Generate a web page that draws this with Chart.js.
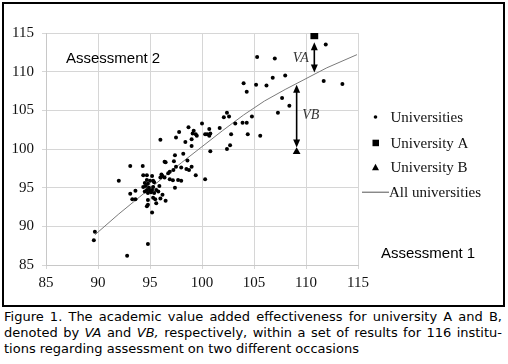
<!DOCTYPE html>
<html>
<head>
<meta charset="utf-8">
<script src="https://cdn.jsdelivr.net/npm/chart.js@4.4.1/dist/chart.umd.min.js"></script>
<style>
  body { margin: 0; background: #fff; width: 508px; height: 364px; position: relative; overflow: hidden; }
  #frame { position: absolute; left: 2px; top: 2px; width: 503px; height: 305px; border: 2px solid #000; box-sizing: border-box; }
  #chart { position: absolute; left: 4px; top: 4px; }
  #caption { position: absolute; left: 4px; top: 309px; width: 498px; font-family: "DejaVu Sans", sans-serif; font-size: 13px; line-height: 16px; color: #000; }
  #caption div { white-space: nowrap; }
  #caption .j { text-align: justify; text-align-last: justify; }
</style>
</head>
<body>
<div id="frame"></div>
<canvas id="chart" width="498" height="300"></canvas>
<div id="caption">
  <div class="j">Figure 1. The academic value added effectiveness for university A and B,</div>
  <div class="j">denoted by <i>VA</i> and <i>VB,</i> respectively, within a set of results for 116 institu-</div>
  <div>tions regarding assessment on two different occasions</div>
</div>
<script>
// Assessment 1 (x) vs Assessment 2 (y)
const universities = [
  [89.6, 88.2], [89.7, 89.3], [92.8, 86.2], [94.8, 87.7], [92.0, 95.9], [93.1, 97.8],
  [94.3, 97.8], [93.1, 94.2], [93.6, 94.6], [93.3, 93.5], [93.6, 93.5], [95.2, 91.8],
  [94.7, 92.6], [94.8, 92.8], [95.6, 93.0], [94.8, 93.4], [95.3, 93.7], [95.5, 93.5],
  [96.0, 93.6], [96.5, 93.3], [96.2, 94.1], [95.8, 94.5], [94.35, 96.6], [94.7, 96.6],
  [95.2, 96.5], [94.7, 96.0], [95.0, 95.9], [95.3, 95.9], [94.5, 95.6], [94.8, 95.5],
  [95.4, 95.7], [94.35, 95.1], [94.6, 95.2], [94.9, 95.0], [95.3, 95.1], [94.7, 94.7],
  [95.0, 94.6], [95.2, 94.7], [95.6, 94.7], [94.8, 94.3], [95.1, 94.4], [95.4, 94.3],
  [94.5, 94.5], [95.9, 95.2], [96.0, 96.3], [96.4, 96.3], [96.1, 96.7], [96.2, 96.5],
  [96.75, 96.85], [96.9, 97.05], [96.9, 96.1], [97.4, 95.0], [97.7, 96.0], [98.0, 95.9],
  [97.2, 95.95], [99.4, 96.6], [100.3, 96.1], [97.25, 97.3], [97.5, 97.7], [98.0, 97.6],
  [98.5, 97.4], [98.75, 97.3], [99.0, 97.7], [96.4, 98.35], [96.5, 98.3], [97.3, 98.4],
  [98.6, 98.5], [97.4, 99.2], [98.2, 99.4], [100.8, 99.7], [102.4, 100.0], [102.7, 100.5],
  [99.0, 100.4], [98.4, 100.9], [96.0, 101.2], [97.5, 101.5], [97.8, 102.2], [98.7, 102.8],
  [99.0, 101.25], [99.1, 102.0], [99.2, 102.35], [99.4, 101.9], [99.5, 101.7], [100.0, 103.3],
  [100.3, 101.9], [100.5, 101.9], [100.7, 101.7], [100.8, 102.0], [100.7, 102.6], [101.7, 102.7],
  [102.1, 104.1], [102.4, 104.7], [102.6, 104.2], [102.8, 101.9], [103.2, 103.3], [104.3, 103.4],
  [103.9, 103.4], [104.8, 104.2], [104.4, 101.9], [105.6, 101.7], [104.0, 108.5], [104.3, 107.4],
  [105.2, 108.3], [106.2, 108.2], [106.8, 109.2], [108.0, 109.5], [105.3, 111.9], [107.0, 111.7],
  [111.9, 113.5], [111.7, 108.8], [113.5, 108.4], [107.7, 106.6], [108.4, 105.6], [107.3, 104.7]
];
const universityA = [110.8, 114.7];
const universityB = [109.1, 99.65];

// fitted curve for all universities
const fitX = [89.7, 92, 94, 96, 98, 100, 102, 104, 106, 108, 110, 112, 114.9];
const fitY = [88.9, 91.6, 93.8, 96.0, 98.2, 100.3, 102.4, 104.4, 106.2, 107.7, 109.1, 110.5, 112.2];

// value-added arrows: [x, top, bottom]
const arrowVA = [110.8, 113.8, 109.9];
const arrowVB = [109.1, 108.3, 100.2];

const axisTicks = [85, 90, 95, 100, 105, 110, 115];
const legendLabels = ['Universities', 'University A', 'University B', 'All universities'];

const serif = '"Liberation Serif", "Times New Roman", serif';

const drawArrow = (ctx, x, yTop, yBottom) => {
    const head = 8, half = 3.5;
    ctx.beginPath();
    ctx.moveTo(x, yTop + head - 1);
    ctx.lineTo(x, yBottom - head + 1);
    ctx.stroke();
    ctx.beginPath();
    ctx.moveTo(x, yTop);
    ctx.lineTo(x - half, yTop + head);
    ctx.lineTo(x + half, yTop + head);
    ctx.closePath();
    ctx.fill();
    ctx.beginPath();
    ctx.moveTo(x, yBottom);
    ctx.lineTo(x - half, yBottom - head);
    ctx.lineTo(x + half, yBottom - head);
    ctx.closePath();
    ctx.fill();
};

const annotate = {
    id: 'annotate',
    afterDatasetsDraw(chart) {
        const { ctx, scales: { x, y } } = chart;
        ctx.save();
        ctx.strokeStyle = '#000';
        ctx.fillStyle = '#000';
        ctx.lineWidth = 1.6;
        drawArrow(ctx, x.getPixelForValue(arrowVA[0]), y.getPixelForValue(arrowVA[1]), y.getPixelForValue(arrowVA[2]));
        drawArrow(ctx, x.getPixelForValue(arrowVB[0]), y.getPixelForValue(arrowVB[1]), y.getPixelForValue(arrowVB[2]));

        ctx.fillStyle = '#333';
        ctx.font = 'italic 14px ' + serif;
        ctx.textAlign = 'center';
        ctx.textBaseline = 'middle';
        ctx.fillText('VA', x.getPixelForValue(109.5), y.getPixelForValue(111.7));
        ctx.fillText('VB', x.getPixelForValue(110.45), y.getPixelForValue(104.3));

        // axis captions
        ctx.fillStyle = '#000';
        ctx.font = '15px "Liberation Sans", Arial, sans-serif';
        ctx.textAlign = 'left';
        ctx.fillText('Assessment 2', 62, 55);
        ctx.fillText('Assessment 1', 377, 250);

        // legend
        const mx = 371.5, tx = 386.5;
        const rows = [113, 138.7, 163.3, 187.7];
        ctx.font = '15px ' + serif;
        legendLabels.forEach((label, i) => {
            const ry = rows[i];
            ctx.fillStyle = '#000';
            if (i === 0) {
                ctx.beginPath();
                ctx.arc(mx, ry, 1.8, 0, Math.PI * 2);
                ctx.fill();
            } else if (i === 1) {
                ctx.fillRect(mx - 3, ry - 3, 6.5, 6.5);
            } else if (i === 2) {
                ctx.beginPath();
                ctx.moveTo(mx, ry - 3.5);
                ctx.lineTo(mx + 3.5, ry + 3);
                ctx.lineTo(mx - 3.5, ry + 3);
                ctx.closePath();
                ctx.fill();
            } else {
                ctx.strokeStyle = '#555';
                ctx.lineWidth = 1;
                ctx.beginPath();
                ctx.moveTo(358, ry + 0.5);
                ctx.lineTo(385, ry + 0.5);
                ctx.stroke();
            }
            ctx.fillStyle = '#111';
            ctx.fillText(label, i === 3 ? tx - 1.5 : tx, ry + 1);
        });
        ctx.restore();
    }
};

const gridColor = '#d6d6d6';

new Chart(document.getElementById('chart'), {
    data: {
        datasets: [
            {
                type: 'line',
                label: 'All universities',
                data: fitX.map((v, i) => ({ x: v, y: fitY[i] })),
                borderColor: '#7a7a7a',
                borderWidth: 1,
                pointRadius: 0,
                fill: false,
                order: 3
            },
            {
                type: 'scatter',
                label: 'Universities',
                data: universities.map(p => ({ x: p[0], y: p[1] })),
                backgroundColor: '#000',
                pointRadius: 2,
                pointBorderWidth: 0,
                order: 2
            },
            {
                type: 'scatter',
                label: 'University A',
                data: [{ x: universityA[0], y: universityA[1] }],
                pointStyle: 'rect',
                backgroundColor: '#000',
                pointRadius: 5.5,
                pointBorderWidth: 0,
                order: 1
            },
            {
                type: 'scatter',
                label: 'University B',
                data: [{ x: universityB[0], y: universityB[1] }],
                pointStyle: 'triangle',
                backgroundColor: '#000',
                pointRadius: 4.5,
                pointBorderWidth: 0,
                order: 1
            }
        ]
    },
    options: {
        responsive: false,
        animation: false,
        layout: { padding: { top: 29, right: 144, left: 0, bottom: 0 } },
        plugins: {
            legend: { display: false },
            tooltip: { enabled: false }
        },
        scales: {
            x: {
                type: 'linear',
                min: 85,
                max: 115,
                afterBuildTicks: s => { s.ticks = axisTicks.map(v => ({ value: v })); },
                afterFit: s => { s.height = 39; },
                grid: { color: gridColor, tickLength: 4 },
                border: { color: '#c8c8c8' },
                ticks: { color: '#111', padding: 5, font: { family: serif, size: 15 } }
            },
            y: {
                type: 'linear',
                min: 85,
                max: 115,
                afterBuildTicks: s => { s.ticks = axisTicks.map(v => ({ value: v })); },
                afterFit: s => { s.width = 42; },
                grid: { color: gridColor, tickLength: 4 },
                border: { color: '#c8c8c8' },
                ticks: { color: '#111', padding: 8, font: { family: serif, size: 15 } }
            }
        }
    },
    plugins: [annotate]
});
</script>
</body>
</html>
